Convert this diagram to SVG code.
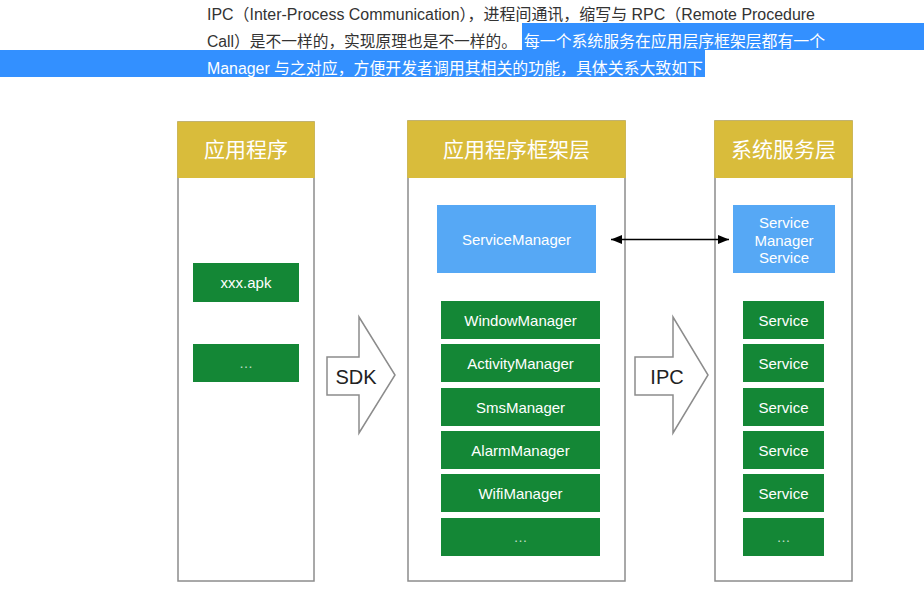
<svg xmlns="http://www.w3.org/2000/svg" width="924" height="602" viewBox="0 0 924 602">
<defs>
<style>
.para{font-family:"Liberation Sans","Noto Sans CJK SC",sans-serif;font-size:16px;fill:#333}
.sel{fill:#fff}
.hl{fill:#3390ff}
.col{fill:#fff;stroke:#8c8c8c;stroke-width:1.5}
.hdr{fill:#d9bc3b}
.htx{font-family:"Noto Sans CJK SC","Liberation Sans",sans-serif;font-size:21px;fill:#fff;text-anchor:middle}
.g{fill:#148736}
.b{fill:#56a8f5}
.t{font-family:"Liberation Sans","Noto Sans CJK SC",sans-serif;font-size:15px;fill:#fff;text-anchor:middle}
.dots{font-family:"Liberation Sans",sans-serif;font-size:14px;fill:#fff;fill-opacity:0.75;text-anchor:middle}
.big{fill:#fff;stroke:#8c8c8c;stroke-width:1.5;stroke-linejoin:miter}
.bt{font-family:"Liberation Sans",sans-serif;font-size:20px;fill:#222;text-anchor:middle}
.conn{stroke:#000;stroke-width:1.6;fill:none}
</style>
<marker id="ah" viewBox="0 0 11 9" markerUnits="userSpaceOnUse" markerWidth="11" markerHeight="9" refX="11" refY="4.5" orient="auto-start-reverse">
<path d="M0,0 L11,4.5 L0,9 z" fill="#000"/>
</marker>
</defs>
<rect width="924" height="602" fill="#fff"/>

<g id="paragraph">
<rect class="hl" x="522" y="23" width="402" height="27"/>
<rect class="hl" x="0" y="50" width="705" height="27"/>
<text class="para" x="207" y="20" textLength="608" lengthAdjust="spacingAndGlyphs">IPC（Inter-Process Communication），进程间通讯，缩写与 RPC（Remote Procedure</text>
<text class="para" x="207" y="47" textLength="310" lengthAdjust="spacingAndGlyphs">Call）是不一样的，实现原理也是不一样的。</text>
<text class="para sel" x="524" y="47" textLength="301" lengthAdjust="spacingAndGlyphs">每一个系统服务在应用层序框架层都有一个</text>
<text class="para sel" x="207" y="74" textLength="496" lengthAdjust="spacingAndGlyphs">Manager 与之对应，方便开发者调用其相关的功能，具体关系大致如下</text>
</g>

<g id="col-app">
<rect class="col" x="178" y="122" width="136" height="459"/>
<rect class="hdr" x="177.25" y="121.5" width="137.5" height="56.5"/>
<text class="htx" x="246" y="157">应用程序</text>
</g>
<g id="col-framework">
<rect class="col" x="408" y="121" width="217" height="460"/>
<rect class="hdr" x="407.25" y="120.5" width="218.5" height="57.5"/>
<text class="htx" x="516.5" y="157">应用程序框架层</text>
</g>
<g id="col-service">
<rect class="col" x="715" y="121" width="137" height="460"/>
<rect class="hdr" x="714.25" y="120.5" width="138.5" height="57.5"/>
<text class="htx" x="783.5" y="157">系统服务层</text>
</g>

<g id="app-apk"><rect class="g" x="193" y="263" width="106" height="39"/><text class="t" x="246" y="288">xxx.apk</text></g>
<g id="app-more"><rect class="g" x="193" y="344" width="106" height="38"/><text class="dots" x="246" y="368">…</text></g>

<g id="servicemanager"><rect class="b" x="437" y="205" width="159" height="68"/><text class="t" x="516.5" y="245">ServiceManager</text></g>
<g id="windowmanager"><rect class="g" x="441" y="301" width="159" height="38"/><text class="t" x="520.5" y="325.5">WindowManager</text></g>
<g id="activitymanager"><rect class="g" x="441" y="344" width="159" height="38"/><text class="t" x="520.5" y="368.5">ActivityManager</text></g>
<g id="smsmanager"><rect class="g" x="441" y="388" width="159" height="38"/><text class="t" x="520.5" y="412.5">SmsManager</text></g>
<g id="alarmmanager"><rect class="g" x="441" y="431" width="159" height="38"/><text class="t" x="520.5" y="455.5">AlarmManager</text></g>
<g id="wifimanager"><rect class="g" x="441" y="474" width="159" height="38"/><text class="t" x="520.5" y="498.5">WifiManager</text></g>
<g id="manager-more"><rect class="g" x="441" y="518" width="159" height="38"/><text class="dots" x="520.5" y="542">…</text></g>

<g id="sms"><rect class="b" x="733" y="205" width="102" height="68"/>
<text class="t" x="784" y="228">Service</text><text class="t" x="784" y="245.5">Manager</text><text class="t" x="784" y="263">Service</text></g>
<g id="service1"><rect class="g" x="743" y="301" width="81" height="38"/><text class="t" x="783.5" y="325.5">Service</text></g>
<g id="service2"><rect class="g" x="743" y="344" width="81" height="38"/><text class="t" x="783.5" y="368.5">Service</text></g>
<g id="service3"><rect class="g" x="743" y="388" width="81" height="38"/><text class="t" x="783.5" y="412.5">Service</text></g>
<g id="service4"><rect class="g" x="743" y="431" width="81" height="38"/><text class="t" x="783.5" y="455.5">Service</text></g>
<g id="service5"><rect class="g" x="743" y="474" width="81" height="38"/><text class="t" x="783.5" y="498.5">Service</text></g>
<g id="service-more"><rect class="g" x="743" y="518" width="81" height="38"/><text class="dots" x="783.5" y="542">…</text></g>

<g id="sdk-arrow">
<polygon class="big" points="327,357 359,357 359,317 395,375 359,433 359,395 327,395"/>
<text class="bt" x="356" y="384">SDK</text>
</g>
<g id="ipc-arrow">
<polygon class="big" points="635,357 673,357 673,317 708,375 673,433 673,395 635,395"/>
<text class="bt" x="667" y="384">IPC</text>
</g>

<g id="connectors">
<line class="conn" x1="611" y1="239.5" x2="729" y2="239.5" marker-start="url(#ah)" marker-end="url(#ah)"/>
</g>
</svg>
